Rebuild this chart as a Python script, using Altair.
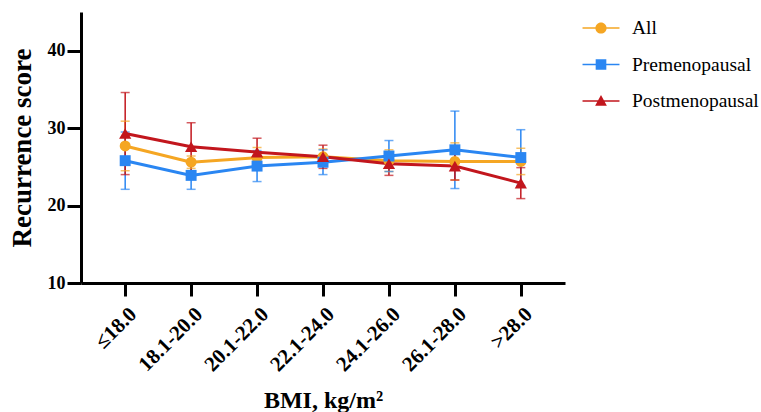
import altair as alt
import pandas as pd

categories = ["≤18.0", "18.1-20.0", "20.1-22.0", "22.1-24.0", "24.1-26.0", "26.1-28.0", ">28.0"]
groups = ["All", "Premenopausal", "Postmenopausal"]
colors = ["#F5A623", "#2A86F2", "#C2161D"]

all_mean = [27.7, 25.6, 26.2, 26.3, 25.8, 25.7, 25.7]
all_err = [3.2, 0.8, 1.3, 1.0, 1.4, 2.4, 1.7]
pre_mean = [25.8, 23.9, 25.1, 25.6, 26.4, 27.2, 26.2]
pre_err = [3.7, 1.8, 2.0, 1.6, 2.0, 5.0, 3.6]
post_mean = [29.3, 27.6, 26.9, 26.3, 25.4, 25.1, 22.9]
post_err = [5.3, 3.1, 1.8, 1.5, 1.5, 1.8, 2.0]

point_shapes = ["circle", "square", "triangle-up"]
point_sizes = [120, 120, 150]
bar = "M-1.32,-0.055H1.32V0.055H-1.32Z "
legend_paths = [
    bar + "M0.4,0A0.4,0.4 0 1,1 -0.4,0A0.4,0.4 0 1,1 0.4,0Z",
    bar + "M-0.38,-0.38H0.38V0.38H-0.38Z",
    bar + "M0,-0.42L0.42,0.34H-0.42Z",
]

rows = []
for g, means, errs in zip(groups, [all_mean, pre_mean, post_mean], [all_err, pre_err, post_err]):
    for c, m, e in zip(categories, means, errs):
        rows.append({"BMI": c, "Group": g, "mean": m, "lo": m - e, "hi": m + e})
df = pd.DataFrame(rows)

FONT = "Liberation Serif"

x_enc = alt.X(
    "BMI:N",
    sort=categories,
    scale=alt.Scale(type="point", padding=0.67),
    axis=alt.Axis(
        title="BMI, kg/m²",
        labelAngle=315,
        labelFont=FONT,
        labelFontSize=21,
        labelFontWeight="bold",
        labelColor="black",
        labelPadding=7,
        tickSize=13,
        tickWidth=3,
        tickColor="black",
        domainWidth=3,
        domainColor="black",
        titleFont=FONT,
        titleFontSize=24,
        titleFontWeight="bold",
        titleColor="black",
        titleY=124,
        titleBaseline="alphabetic",
        grid=False,
    ),
)
y_scale = alt.Scale(domain=[10, 45], nice=False, zero=False)
y_axis = alt.Axis(
    title="Recurrence score",
    values=[10, 20, 30, 40],
    labelFont=FONT,
    labelFontSize=18,
    labelFontWeight="bold",
    labelColor="black",
    labelPadding=2,
    tickSize=14,
    tickWidth=3,
    tickColor="black",
    domainWidth=3,
    domainColor="black",
    titleFont=FONT,
    titleFontSize=27,
    titleFontWeight="bold",
    titleColor="black",
    titlePadding=11,
    grid=False,
)
color_scale = alt.Scale(domain=groups, range=colors)

base = alt.Chart(df)

legend_def = alt.Legend(
    title=None,
    orient="none",
    legendX=506,
    legendY=2,
    symbolSize=784,
    symbolStrokeWidth=0,
    labelFont=FONT,
    labelFontSize=19.5,
    labelColor="black",
    labelOffset=17,
    rowPadding=12.5,
    labelLimit=300,
)

legend_layer = (
    base.transform_filter("false")
    .mark_point(filled=True, opacity=1, size=784)
    .encode(
        color=alt.Color("Group:N", scale=color_scale, legend=legend_def),
        shape=alt.Shape(
            "Group:N",
            scale=alt.Scale(domain=groups, range=legend_paths),
            legend=legend_def,
        ),
    )
)

err_rule = base.mark_rule(strokeWidth=1.5).encode(
    x=x_enc,
    y=alt.Y("lo:Q", scale=y_scale, axis=y_axis),
    y2="hi:Q",
    stroke=alt.Stroke("Group:N", scale=color_scale, legend=None),
)
cap_lo = base.mark_tick(thickness=1.5, size=9).encode(
    x=x_enc,
    y=alt.Y("lo:Q", scale=y_scale),
    fill=alt.Fill("Group:N", scale=color_scale, legend=None),
)
cap_hi = base.mark_tick(thickness=1.5, size=9).encode(
    x=x_enc,
    y=alt.Y("hi:Q", scale=y_scale),
    fill=alt.Fill("Group:N", scale=color_scale, legend=None),
)
lines = base.mark_line(strokeWidth=3).encode(
    x=x_enc,
    y=alt.Y("mean:Q", scale=y_scale),
    stroke=alt.Stroke("Group:N", scale=color_scale, legend=None),
    detail="Group:N",
)

pts = []
for g, shp, sz in zip(groups, point_shapes, point_sizes):
    pts.append(
        base.transform_filter(alt.datum.Group == g)
        .mark_point(shape=shp, size=sz, filled=True, opacity=1)
        .encode(
            x=x_enc,
            y=alt.Y("mean:Q", scale=y_scale),
            fill=alt.Fill("Group:N", scale=color_scale, legend=None),
        )
    )

chart = alt.layer(legend_layer, err_rule, cap_lo, cap_hi, lines, *pts).properties(
    width=484,
    height=271,
    autosize=alt.AutoSizeParams(type="none"),
    padding={"left": 81, "top": 12, "right": 196, "bottom": 129},
    background="white",
).configure_view(stroke=None)

chart.save("out.html", embed_options={"renderer": "svg", "actions": False})
